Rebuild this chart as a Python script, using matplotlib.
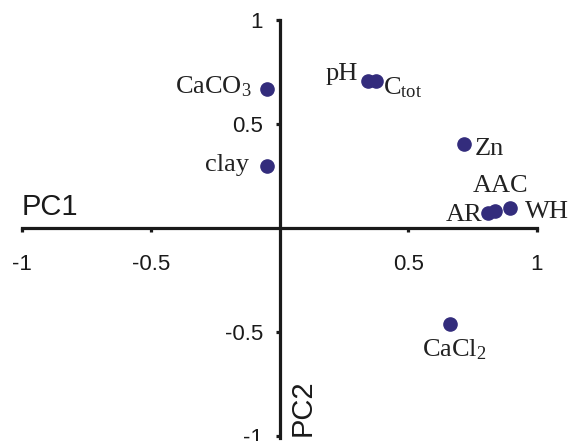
import numpy as np
import matplotlib
matplotlib.use("Agg")
import matplotlib.pyplot as plt

# loadings on the first two principal components
names = ["CaCO3", "clay", "pH", "Ctot", "Zn", "AR", "AAC", "WH", "CaCl2"]
pc1 = [-0.05, -0.05, 0.345, 0.373, 0.715, 0.808, 0.835, 0.897, 0.664]
pc2 = [0.667, 0.297, 0.705, 0.705, 0.403, 0.072, 0.082, 0.096, -0.46]

# how each label is written and where it sits next to its point (offset in px)
labels = {
    "CaCO3": (r"CaCO$\mathregular{_3}$", (-15, 3), "right"),
    "clay": ("clay", (-18, 1), "right"),
    "pH": ("pH", (-10, 7), "right"),
    "Ctot": (r"C$\mathregular{_{tot}}$", (7, -6), "left"),
    "Zn": ("Zn", (11, -5), "left"),
    "AR": ("AR", (-5, -2), "right"),
    "AAC": ("AAC", (-22, 25), "left"),
    "WH": ("WH", (14, -4), "left"),
    "CaCl2": (r"CaCl$\mathregular{_2}$", (4, -26), "center"),
}

fig = plt.figure(figsize=(5.68, 4.41), dpi=100)
ax = fig.add_axes([22 / 568, 1 / 441, (537 - 22) / 568, 420 / 441])

ax.plot(pc1, pc2, "o", color="#332c7c", ms=9.5, mec="#332c7c")

for name, x, y in zip(names, pc1, pc2):
    txt, off, ha = labels[name]
    ax.annotate(txt, (x, y), xytext=off, textcoords="offset pixels",
                ha=ha, va="center", fontsize=19, family="Liberation Serif",
                color="#222222")

ax.set_xlim(-1, 1)
ax.set_ylim(-1.02, 1)

# axes crossing at the origin
for side in ["top", "right"]:
    ax.spines[side].set_visible(False)
ax.spines["left"].set_position(("data", 0))
ax.spines["bottom"].set_position(("data", 0))
for side in ["left", "bottom"]:
    ax.spines[side].set_linewidth(2.3)
    ax.spines[side].set_color("#1a1a1a")
ax.spines["left"].set_bounds(-1.01, 1)
ax.spines["bottom"].set_bounds(-1, 1)

ticks = [-1, -0.5, 0.5, 1]
ax.set_xticks(ticks)
ax.set_xticklabels(["-1", "-0.5", "0.5", "1"])
ax.set_yticks(ticks)
ax.set_yticklabels(["-1", "-0.5", "0.5", "1"])
ax.tick_params(direction="out", length=3, width=2.3, color="#1a1a1a",
               labelsize=16)
ax.tick_params(axis="x", pad=16)
ax.tick_params(axis="y", pad=9)
for t in ax.get_xticklabels() + ax.get_yticklabels():
    t.set_family("Liberation Sans")
    t.set_color("#1a1a1a")

ax.text(-1.0, 0.035, "PC1", fontsize=21, family="Liberation Sans",
        ha="left", va="bottom", color="#1a1a1a")
ax.text(0.035, -1.0, "PC2", fontsize=21, family="Liberation Sans",
        rotation=90, ha="left", va="bottom", color="#1a1a1a")

fig.savefig("out.png", dpi=100)
